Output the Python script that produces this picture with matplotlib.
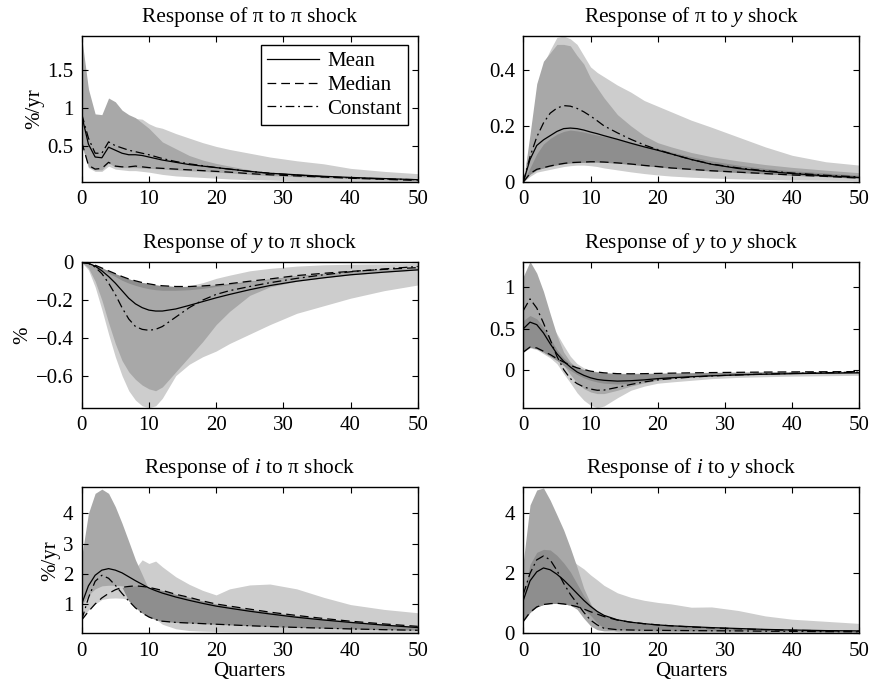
import matplotlib
matplotlib.use('Agg')
import matplotlib.pyplot as plt
from matplotlib.ticker import FuncFormatter
from matplotlib.lines import Line2D

plt.rcParams['font.family'] = ['Liberation Serif', 'DejaVu Serif']
plt.rcParams['mathtext.fontset'] = 'custom'
plt.rcParams['mathtext.rm'] = 'Liberation Serif'
plt.rcParams['mathtext.it'] = 'Liberation Serif:italic'

# horizons (quarters)
H = [0, 1, 2, 3, 4, 5, 6, 7, 8, 9, 10, 11, 12, 14, 16, 18, 20, 22, 25, 28, 32, 36, 40, 45, 50]

# response of pi to pi shock
pp_mean = [0.90, 0.52, 0.35, 0.34, 0.48, 0.44, 0.40, 0.38, 0.38, 0.37, 0.35, 0.33, 0.31, 0.28, 0.25, 0.23, 0.21, 0.19, 0.16, 0.135, 0.115, 0.095, 0.08, 0.065, 0.05]
pp_median = [0.55, 0.24, 0.19, 0.20, 0.28, 0.23, 0.22, 0.22, 0.23, 0.22, 0.21, 0.205, 0.20, 0.19, 0.18, 0.17, 0.16, 0.15, 0.13, 0.115, 0.10, 0.085, 0.07, 0.055, 0.04]
pp_const = [0.92, 0.60, 0.40, 0.40, 0.55, 0.50, 0.47, 0.44, 0.42, 0.40, 0.38, 0.355, 0.33, 0.29, 0.26, 0.235, 0.21, 0.19, 0.16, 0.135, 0.11, 0.09, 0.075, 0.06, 0.05]
pp_light_lo = [0.50, 0.21, 0.16, 0.16, 0.23, 0.19, 0.18, 0.17, 0.17, 0.16, 0.15, 0.135, 0.12, 0.10, 0.09, 0.08, 0.07, 0.06, 0.05, 0.045, 0.035, 0.03, 0.025, 0.02, 0.02]
pp_light_hi = [1.85, 1.2, 0.88, 0.88, 1.08, 1.03, 0.94, 0.89, 0.86, 0.85, 0.79, 0.75, 0.73, 0.66, 0.60, 0.54, 0.49, 0.45, 0.40, 0.35, 0.30, 0.26, 0.20, 0.16, 0.13]
pp_mid_lo = [0.52, 0.22, 0.18, 0.18, 0.27, 0.22, 0.21, 0.21, 0.21, 0.205, 0.20, 0.195, 0.19, 0.18, 0.17, 0.16, 0.15, 0.14, 0.12, 0.105, 0.09, 0.075, 0.065, 0.05, 0.04]
pp_mid_hi = [1.93, 1.25, 0.92, 0.91, 1.13, 1.08, 0.97, 0.91, 0.87, 0.80, 0.73, 0.64, 0.55, 0.46, 0.37, 0.31, 0.265, 0.23, 0.18, 0.145, 0.12, 0.10, 0.08, 0.06, 0.045]

# response of pi to y shock
py_mean = [0, 0.08, 0.13, 0.15, 0.165, 0.18, 0.19, 0.192, 0.19, 0.185, 0.178, 0.172, 0.165, 0.152, 0.138, 0.125, 0.113, 0.1, 0.08, 0.063, 0.048, 0.038, 0.03, 0.022, 0.016]
py_median = [0, 0.03, 0.045, 0.051, 0.057, 0.062, 0.066, 0.069, 0.07, 0.071, 0.072, 0.072, 0.071, 0.068, 0.064, 0.059, 0.055, 0.05, 0.045, 0.04, 0.035, 0.03, 0.025, 0.02, 0.014]
py_const = [0, 0.09, 0.16, 0.21, 0.245, 0.263, 0.272, 0.27, 0.262, 0.25, 0.235, 0.218, 0.2, 0.175, 0.152, 0.132, 0.115, 0.1, 0.08, 0.064, 0.05, 0.04, 0.032, 0.024, 0.018]
py_light_lo = [0, 0.02, 0.035, 0.04, 0.045, 0.05, 0.055, 0.058, 0.06, 0.06, 0.058, 0.055, 0.05, 0.043, 0.036, 0.03, 0.025, 0.021, 0.017, 0.014, 0.011, 0.009, 0.007, 0.006, 0.005]
py_light_hi = [0, 0.15, 0.33, 0.42, 0.47, 0.515, 0.52, 0.51, 0.49, 0.45, 0.41, 0.39, 0.375, 0.345, 0.32, 0.29, 0.27, 0.25, 0.22, 0.195, 0.16, 0.125, 0.095, 0.072, 0.06]
py_mid_lo = [0, 0.028, 0.043, 0.05, 0.056, 0.061, 0.065, 0.068, 0.069, 0.07, 0.071, 0.071, 0.07, 0.067, 0.063, 0.058, 0.054, 0.049, 0.044, 0.039, 0.034, 0.029, 0.024, 0.019, 0.013]
py_mid_hi = [0, 0.17, 0.35, 0.43, 0.46, 0.49, 0.49, 0.485, 0.45, 0.42, 0.37, 0.335, 0.30, 0.24, 0.2, 0.165, 0.14, 0.125, 0.105, 0.09, 0.075, 0.062, 0.052, 0.042, 0.033]
py_dark_lo = [0, 0.028, 0.043, 0.05, 0.056, 0.061, 0.065, 0.068, 0.069, 0.07, 0.071, 0.071, 0.07, 0.067, 0.063, 0.058, 0.054, 0.049, 0.044, 0.039, 0.034, 0.029, 0.024, 0.019, 0.013]
py_dark_hi = [0, 0.05, 0.1, 0.135, 0.155, 0.17, 0.18, 0.185, 0.182, 0.178, 0.172, 0.167, 0.162, 0.155, 0.142, 0.13, 0.12, 0.107, 0.09, 0.075, 0.06, 0.048, 0.04, 0.032, 0.024]

# response of y to pi shock
yp_mean = [0, -0.005, -0.02, -0.045, -0.075, -0.11, -0.15, -0.19, -0.22, -0.24, -0.253, -0.258, -0.258, -0.247, -0.228, -0.208, -0.188, -0.17, -0.145, -0.123, -0.1, -0.082, -0.066, -0.052, -0.04]
yp_median = [0, -0.005, -0.015, -0.03, -0.045, -0.06, -0.075, -0.088, -0.098, -0.107, -0.114, -0.12, -0.124, -0.128, -0.128, -0.125, -0.12, -0.113, -0.1, -0.088, -0.07, -0.058, -0.048, -0.037, -0.028]
yp_const = [0, -0.005, -0.025, -0.06, -0.11, -0.17, -0.24, -0.3, -0.34, -0.355, -0.36, -0.355, -0.34, -0.29, -0.24, -0.2, -0.17, -0.15, -0.128, -0.108, -0.085, -0.066, -0.05, -0.035, -0.022]
yp_light_lo = [0, -0.04, -0.13, -0.25, -0.38, -0.5, -0.6, -0.68, -0.73, -0.76, -0.77, -0.76, -0.72, -0.6, -0.54, -0.5, -0.47, -0.43, -0.38, -0.33, -0.27, -0.23, -0.19, -0.15, -0.12]
yp_light_hi = [0, -0.005, -0.015, -0.03, -0.045, -0.06, -0.075, -0.088, -0.098, -0.107, -0.114, -0.12, -0.124, -0.13, -0.124, -0.108, -0.085, -0.068, -0.045, -0.032, -0.02, -0.013, -0.01, -0.008, -0.006]
yp_mid_lo = [0, -0.03, -0.1, -0.2, -0.32, -0.43, -0.52, -0.58, -0.62, -0.65, -0.67, -0.68, -0.66, -0.58, -0.5, -0.42, -0.33, -0.26, -0.175, -0.13, -0.1, -0.082, -0.066, -0.052, -0.04]
yp_mid_hi = [0, -0.005, -0.015, -0.03, -0.045, -0.06, -0.075, -0.088, -0.098, -0.107, -0.114, -0.12, -0.124, -0.128, -0.128, -0.125, -0.12, -0.113, -0.1, -0.088, -0.07, -0.058, -0.048, -0.037, -0.028]
yp_dark_lo = [0, -0.007, -0.02, -0.04, -0.058, -0.075, -0.095, -0.11, -0.122, -0.132, -0.14, -0.145, -0.148, -0.148, -0.145, -0.138, -0.128, -0.118, -0.103, -0.09, -0.072, -0.059, -0.049, -0.038, -0.028]
yp_dark_hi = [0, -0.005, -0.015, -0.03, -0.045, -0.06, -0.075, -0.088, -0.098, -0.107, -0.114, -0.12, -0.124, -0.128, -0.128, -0.125, -0.12, -0.113, -0.1, -0.088, -0.07, -0.058, -0.048, -0.037, -0.028]

# response of y to y shock
yy_mean = [0.5, 0.58, 0.55, 0.45, 0.32, 0.2, 0.11, 0.04, -0.02, -0.06, -0.09, -0.11, -0.12, -0.13, -0.125, -0.115, -0.1, -0.09, -0.077, -0.066, -0.055, -0.047, -0.04, -0.034, -0.03]
yy_median = [0.22, 0.28, 0.27, 0.23, 0.19, 0.14, 0.1, 0.06, 0.03, 0.01, -0.01, -0.02, -0.03, -0.04, -0.042, -0.04, -0.037, -0.034, -0.03, -0.027, -0.024, -0.021, -0.019, -0.017, -0.015]
yy_const = [0.72, 0.86, 0.75, 0.57, 0.37, 0.17, 0.01, -0.1, -0.16, -0.2, -0.225, -0.24, -0.238, -0.205, -0.17, -0.14, -0.115, -0.1, -0.082, -0.068, -0.055, -0.045, -0.037, -0.028, -0.022]
yy_light_lo = [0.22, 0.27, 0.25, 0.2, 0.15, 0.08, -0.04, -0.15, -0.27, -0.36, -0.42, -0.45, -0.43, -0.33, -0.24, -0.19, -0.155, -0.14, -0.12, -0.1, -0.085, -0.077, -0.07, -0.065, -0.06]
yy_light_hi = [0.6, 0.66, 0.62, 0.6, 0.56, 0.44, 0.3, 0.17, 0.08, 0.03, 0.0, -0.015, -0.025, -0.035, -0.035, -0.032, -0.03, -0.028, -0.025, -0.022, -0.02, -0.018, -0.016, -0.015, -0.014]
yy_mid_lo = [0.22, 0.28, 0.26, 0.22, 0.17, 0.12, 0.06, -0.05, -0.15, -0.22, -0.26, -0.28, -0.28, -0.24, -0.19, -0.15, -0.12, -0.1, -0.08, -0.066, -0.055, -0.047, -0.04, -0.034, -0.03]
yy_mid_hi = [1.13, 1.31, 1.17, 0.95, 0.68, 0.42, 0.22, 0.1, 0.03, 0.0, -0.02, -0.03, -0.04, -0.045, -0.045, -0.042, -0.04, -0.037, -0.034, -0.03, -0.027, -0.024, -0.022, -0.02, -0.018]
yy_dark_lo = [0.22, 0.28, 0.26, 0.22, 0.17, 0.12, 0.06, 0.0, -0.05, -0.09, -0.12, -0.14, -0.155, -0.165, -0.155, -0.13, -0.105, -0.09, -0.075, -0.062, -0.052, -0.045, -0.04, -0.034, -0.03]
yy_dark_hi = [0.6, 0.66, 0.62, 0.52, 0.38, 0.25, 0.15, 0.08, 0.04, 0.01, -0.01, -0.02, -0.03, -0.04, -0.042, -0.04, -0.037, -0.034, -0.03, -0.027, -0.024, -0.021, -0.019, -0.017, -0.015]

# response of i to pi shock
ip_mean = [1.0, 1.6, 1.95, 2.12, 2.17, 2.12, 2.03, 1.9, 1.77, 1.65, 1.53, 1.44, 1.36, 1.23, 1.12, 1.02, 0.93, 0.86, 0.76, 0.67, 0.56, 0.47, 0.39, 0.3, 0.22]
ip_median = [0.47, 0.75, 1.0, 1.2, 1.35, 1.47, 1.55, 1.58, 1.6, 1.58, 1.55, 1.5, 1.45, 1.32, 1.22, 1.1, 1.0, 0.93, 0.83, 0.73, 0.62, 0.52, 0.43, 0.34, 0.26]
ip_const = [0.47, 1.2, 1.75, 1.95, 1.85, 1.62, 1.35, 1.1, 0.87, 0.7, 0.57, 0.48, 0.43, 0.39, 0.37, 0.35, 0.33, 0.31, 0.28, 0.255, 0.225, 0.2, 0.175, 0.15, 0.13]
ip_light_lo = [0.47, 0.8, 1.0, 1.15, 1.19, 1.2, 1.19, 1.15, 1.05, 0.9, 0.7, 0.5, 0.33, 0.18, 0.12, 0.1, 0.09, 0.08, 0.07, 0.065, 0.06, 0.055, 0.05, 0.05, 0.045]
ip_light_hi = [1.0, 1.4, 1.6, 1.7, 1.75, 1.8, 1.85, 1.9, 2.18, 2.46, 2.34, 2.42, 2.23, 1.9, 1.65, 1.45, 1.3, 1.5, 1.63, 1.66, 1.5, 1.22, 0.98, 0.82, 0.71]
ip_mid_lo = [0.95, 1.3, 1.5, 1.6, 1.62, 1.62, 1.6, 1.57, 1.55, 1.52, 1.47, 1.5, 1.45, 1.32, 1.22, 1.1, 1.0, 0.93, 0.83, 0.73, 0.62, 0.52, 0.43, 0.34, 0.26]
ip_mid_hi = [2.57, 4.0, 4.66, 4.8, 4.66, 4.22, 3.67, 3.07, 2.46, 1.97, 1.47, 1.5, 1.45, 1.32, 1.22, 1.1, 1.0, 0.93, 0.83, 0.73, 0.62, 0.52, 0.43, 0.34, 0.26]
ip_dark_lo = [0.47, 0.75, 1.0, 1.2, 1.35, 1.47, 1.55, 1.1, 0.87, 0.7, 0.57, 0.48, 0.43, 0.39, 0.37, 0.35, 0.33, 0.31, 0.28, 0.255, 0.225, 0.2, 0.175, 0.15, 0.13]
ip_dark_hi = [0.47, 0.75, 1.0, 1.2, 1.35, 1.47, 1.55, 1.58, 1.6, 1.58, 1.55, 1.5, 1.45, 1.32, 1.22, 1.1, 1.0, 0.93, 0.83, 0.73, 0.62, 0.52, 0.43, 0.34, 0.26]

# response of i to y shock
iy_mean = [1.1, 1.75, 2.05, 2.18, 2.12, 1.97, 1.78, 1.56, 1.33, 1.1, 0.9, 0.73, 0.6, 0.45, 0.37, 0.32, 0.28, 0.25, 0.22, 0.19, 0.16, 0.13, 0.11, 0.09, 0.08]
iy_median = [0.4, 0.7, 0.88, 0.96, 0.99, 1.0, 0.98, 0.94, 0.89, 0.81, 0.72, 0.64, 0.56, 0.44, 0.37, 0.32, 0.28, 0.25, 0.21, 0.18, 0.15, 0.12, 0.1, 0.085, 0.07]
iy_const = [1.3, 2.0, 2.45, 2.58, 2.45, 2.1, 1.67, 1.3, 1.0, 0.7, 0.44, 0.28, 0.17, 0.12, 0.11, 0.1, 0.1, 0.095, 0.09, 0.085, 0.08, 0.07, 0.065, 0.055, 0.05]
iy_light_lo = [0.4, 0.7, 0.88, 0.96, 0.99, 1.0, 0.98, 0.94, 0.89, 0.75, 0.6, 0.4, 0.2, 0.05, 0.03, 0.03, 0.025, 0.025, 0.02, 0.02, 0.02, 0.02, 0.02, 0.02, 0.02]
iy_light_hi = [2.4, 3.0, 3.0, 3.0, 3.0, 3.0, 2.8, 2.5, 2.3, 2.15, 1.95, 1.78, 1.6, 1.35, 1.2, 1.1, 1.03, 0.98, 0.87, 0.88, 0.76, 0.58, 0.47, 0.4, 0.33]
iy_mid_lo = [0.4, 0.7, 0.88, 0.96, 0.99, 1.0, 0.98, 0.94, 0.8, 0.5, 0.25, 0.12, 0.08, 0.08, 0.08, 0.07, 0.07, 0.065, 0.06, 0.055, 0.05, 0.045, 0.04, 0.035, 0.03]
iy_mid_hi = [2.39, 4.28, 4.78, 4.85, 4.44, 3.95, 3.45, 2.85, 2.2, 1.5, 1.0, 0.55, 0.25, 0.12, 0.11, 0.1, 0.1, 0.095, 0.09, 0.085, 0.08, 0.07, 0.065, 0.055, 0.05]
iy_dark_lo = [0.4, 0.7, 0.88, 0.96, 0.99, 1.0, 0.98, 0.94, 0.89, 0.81, 0.6, 0.35, 0.17, 0.12, 0.11, 0.1, 0.1, 0.095, 0.09, 0.085, 0.08, 0.07, 0.065, 0.055, 0.05]
iy_dark_hi = [1.2, 2.3, 2.7, 2.8, 2.78, 2.6, 2.35, 2.05, 1.65, 1.25, 0.95, 0.75, 0.6, 0.45, 0.37, 0.32, 0.28, 0.25, 0.22, 0.19, 0.16, 0.13, 0.11, 0.09, 0.08]

LIGHT = '#cdcdcd'
MID = '#a8a8a8'
DARK = '#8e8e8e'


def fmt(v, pos):
    return ('%g' % v).replace('-', '\u2212')


def draw_panel(ax, title, mean, median, const, light, mid, dark, ylim, yticks, ylabel=None, xlabel=None):
    ax.fill_between(H, light[0], light[1], color=LIGHT, lw=0)
    ax.fill_between(H, mid[0], mid[1], color=MID, lw=0)
    if dark is not None:
        ax.fill_between(H, dark[0], dark[1], color=DARK, lw=0)
    ax.plot(H, mean, color='k', lw=0.9, ls='-')
    ax.plot(H, median, color='k', lw=0.9, ls=(0, (7, 4)))
    ax.plot(H, const, color='k', lw=0.9, ls=(0, (7, 3, 1.5, 3)))
    ax.set_xlim(0, 50)
    ax.set_ylim(*ylim)
    ax.set_xticks([0, 10, 20, 30, 40, 50])
    ax.set_yticks(yticks)
    ax.yaxis.set_major_formatter(FuncFormatter(fmt))
    ax.tick_params(direction='in', top=True, right=True, length=4, width=0.8,
                   labelsize=15, pad=6)
    for s in ax.spines.values():
        s.set_linewidth(1.0)
    ax.set_title(title, fontsize=15.4, pad=10)
    if ylabel:
        ax.set_ylabel(ylabel, fontsize=15, labelpad=2)
    if xlabel:
        ax.set_xlabel(xlabel, fontsize=15, labelpad=1)


fig = plt.figure(figsize=(8.71, 6.88), dpi=100)
W = 0.3858
ax1 = fig.add_axes([0.0938, 0.7355, W, 0.2122])
ax2 = fig.add_axes([0.6008, 0.7355, W, 0.2122])
ax3 = fig.add_axes([0.0938, 0.4074, W, 0.2113])
ax4 = fig.add_axes([0.6008, 0.4074, W, 0.2113])
ax5 = fig.add_axes([0.0938, 0.0795, W, 0.2122])
ax6 = fig.add_axes([0.6008, 0.0795, W, 0.2122])

draw_panel(ax1, 'Response of π to π shock', pp_mean, pp_median, pp_const,
           (pp_light_lo, pp_light_hi), (pp_mid_lo, pp_mid_hi), None,
           (0.02, 1.95), [0.5, 1, 1.5], ylabel='%/yr')
draw_panel(ax2, 'Response of π to $y$ shock', py_mean, py_median, py_const,
           (py_light_lo, py_light_hi), (py_mid_lo, py_mid_hi), (py_dark_lo, py_dark_hi),
           (0, 0.52), [0, 0.2, 0.4])
draw_panel(ax3, 'Response of $y$ to π shock', yp_mean, yp_median, yp_const,
           (yp_light_lo, yp_light_hi), (yp_mid_lo, yp_mid_hi), (yp_dark_lo, yp_dark_hi),
           (-0.77, 0), [-0.6, -0.4, -0.2, 0], ylabel='%')
draw_panel(ax4, 'Response of $y$ to $y$ shock', yy_mean, yy_median, yy_const,
           (yy_light_lo, yy_light_hi), (yy_mid_lo, yy_mid_hi), (yy_dark_lo, yy_dark_hi),
           (-0.45, 1.30), [0, 0.5, 1])
draw_panel(ax5, 'Response of $i$ to π shock', ip_mean, ip_median, ip_const,
           (ip_light_lo, ip_light_hi), (ip_mid_lo, ip_mid_hi), (ip_dark_lo, ip_dark_hi),
           (0.03, 4.86), [1, 2, 3, 4], ylabel='%/yr', xlabel='Quarters')
draw_panel(ax6, 'Response of $i$ to $y$ shock', iy_mean, iy_median, iy_const,
           (iy_light_lo, iy_light_hi), (iy_mid_lo, iy_mid_hi), (iy_dark_lo, iy_dark_hi),
           (0, 4.87), [0, 2, 4], xlabel='Quarters')

handles = [Line2D([], [], color='k', lw=0.9, ls='-'),
           Line2D([], [], color='k', lw=0.9, ls=(0, (7, 4))),
           Line2D([], [], color='k', lw=0.9, ls=(0, (7, 3, 1.5, 3)))]
leg = ax1.legend(handles, ['Mean', 'Median', 'Constant'], loc='upper right',
                 fontsize=15, frameon=True, fancybox=False, framealpha=1,
                 edgecolor='k', borderaxespad=0.45, handlelength=2.5,
                 handletextpad=0.4, labelspacing=0.2, borderpad=0.3)
leg.get_frame().set_linewidth(1.0)

fig.savefig('out.png', dpi=100)
